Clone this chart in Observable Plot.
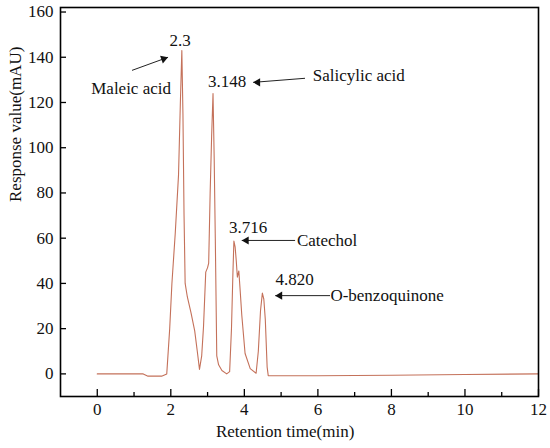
<!DOCTYPE html>
<html>
<head>
<meta charset="utf-8">
<script src="https://cdn.jsdelivr.net/npm/d3@7"></script>
<script src="https://cdn.jsdelivr.net/npm/@observablehq/plot@0.6"></script>
<style>
  body { margin: 0; background: #fff; }
  #chart svg { display: block; }
  #chart svg text { font-family: "Liberation Serif", "Times New Roman", serif; }
</style>
</head>
<body>
<div id="chart"></div>
<script>
// Retention time (min)
const time = [0, 1.25, 1.38, 1.75, 1.89, 1.97, 2.03, 2.12, 2.21, 2.26, 2.3, 2.33, 2.36, 2.39, 2.45, 2.55, 2.65, 2.72, 2.78, 2.84, 2.89, 2.95, 3.0, 3.03, 3.07, 3.11, 3.148, 3.18, 3.21, 3.25, 3.3, 3.39, 3.52, 3.6, 3.65, 3.69, 3.716, 3.75, 3.78, 3.81, 3.85, 3.89, 3.93, 4.02, 4.16, 4.32, 4.38, 4.44, 4.49, 4.53, 4.57, 4.62, 4.65, 6, 8, 10, 12];
// Response value (mAU)
const response = [0, 0, -1, -1, 0, 20, 40, 62, 88, 120, 143, 115, 70, 40, 34, 27, 19, 10, 2, 8, 21, 45, 47, 49, 80, 105, 124, 95, 60, 8, 4, 1.5, 0, 1, 20, 45, 58.7, 56, 50, 42.8, 45.5, 36, 26, 9, 2.3, 0.3, 10, 28, 35.7, 33, 24, 3, -0.8, -0.8, -0.6, -0.3, 0];

const xTicks = [0, 2, 4, 6, 8, 10, 12];
const xMinorTicks = [1, 3, 5, 7, 9, 11];
const yTicks = [0, 20, 40, 60, 80, 100, 120, 140, 160];

// Peak labels (retention-time text) and their positions
const peakLabels = ["2.3", "3.148", "3.716", "4.820"];
const peakLabelX = [2.25, 3.53, 4.10, 5.37];
const peakLabelY = [147.5, 129.3, 64.7, 41.7];

// Compound names
const compounds = ["Maleic acid", "Salicylic acid", "Catechol", "O-benzoquinone"];
const compoundX = [0.92, 5.86, 5.43, 6.34];
const compoundY = [126.2, 132, 59, 34.6];

// Annotation arrows (tail -> head)
const arrowX1 = [0.945, 5.65, 5.38, 6.33];
const arrowY1 = [134.2, 130.7, 59, 34.6];
const arrowX2 = [1.925, 4.24, 3.93, 4.84];
const arrowY2 = [140.0, 128.9, 59, 34.6];

const data = time.map((t, i) => ({t, v: response[i]}));
const labels = peakLabels.map((s, i) => ({s, x: peakLabelX[i], y: peakLabelY[i]}));
const names = compounds.map((s, i) => ({s, x: compoundX[i], y: compoundY[i]}));
const arrows = arrowX1.map((x1, i) => ({x1, y1: arrowY1[i], x2: arrowX2[i], y2: arrowY2[i]}));

const W = 550, H = 448;
const mL = 60, mR = 12, mT = 7, mB = 52;
const pw = W - mL - mR, ph = H - mT - mB;
const font = "Liberation Serif, Times New Roman, serif";

const chart = Plot.plot({
  width: W,
  height: H,
  marginLeft: mL,
  marginRight: mR,
  marginTop: mT,
  marginBottom: mB,
  style: {fontFamily: font, fontSize: "17px", color: "#111", background: "#fff"},
  x: {domain: [-1, 12]},
  y: {domain: [-10, 162]},
  marks: [
    Plot.axisX(xTicks, {tickSize: 0, tickPadding: 6, tickFormat: d => String(d), label: null, fontSize: 17, fontFamily: font}),
    Plot.axisY(yTicks, {tickSize: 0, tickPadding: 7, tickFormat: d => String(d), label: null, fontSize: 17, fontFamily: font}),
    Plot.tickX(xTicks, {x: d => d, insetTop: ph - 7, stroke: "#000", strokeWidth: 1.3}),
    Plot.tickX(xMinorTicks, {x: d => d, insetTop: ph - 4, stroke: "#000", strokeWidth: 1.3}),
    Plot.tickY(yTicks, {y: d => d, insetRight: pw - 6, stroke: "#000", strokeWidth: 1.3}),
    Plot.line(data, {x: "t", y: "v", stroke: "#c4715a", strokeWidth: 1.1}),
    Plot.link(arrows, {x1: "x1", y1: "y1", x2: "x2", y2: "y2", stroke: "#222", strokeWidth: 1}),
    Plot.dot(arrows.slice(0, 1), {x: "x2", y: "y2", symbol: "triangle", r: 3, rotate: 70, fill: "#111", stroke: null, dx: -4.4, dy: 1.6}),
    Plot.dot(arrows.slice(1), {x: "x2", y: "y2", symbol: "triangle", r: 3, rotate: -90, fill: "#111", stroke: null, dx: 4.6}),
    Plot.text(labels, {x: "x", y: "y", text: "s", fontSize: 17, fontFamily: font, fill: "#111", textAnchor: "middle"}),
    Plot.text(names.slice(0, 1), {x: "x", y: "y", text: "s", fontSize: 17, fontFamily: font, fill: "#111", textAnchor: "middle"}),
    Plot.text(names.slice(1), {x: "x", y: "y", text: "s", fontSize: 17, fontFamily: font, fill: "#111", textAnchor: "start"}),
    Plot.text(["Retention time(min)"], {x: 5.11, frameAnchor: "bottom", dy: 40, fontSize: 17, fontFamily: font, fill: "#111"}),
    Plot.text(["Response value(mAU)"], {frameAnchor: "left", dx: -45, rotate: -90, fontSize: 17, fontFamily: font, fill: "#111"}),
    Plot.frame({stroke: "#000", strokeWidth: 1.6})
  ]
});
document.getElementById("chart").appendChild(chart);
</script>
</body>
</html>
